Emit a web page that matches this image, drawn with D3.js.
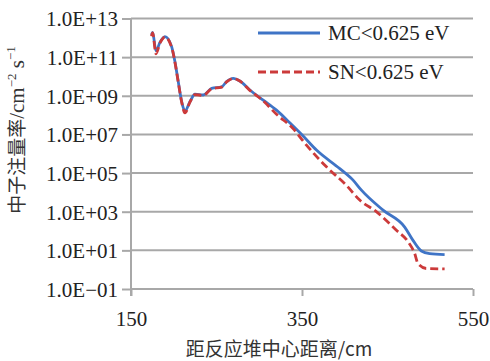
<!DOCTYPE html>
<html><head><meta charset="utf-8">
<script src="https://cdn.jsdelivr.net/npm/d3@7"></script>
<style>
html,body{margin:0;padding:0;background:#fff;}
svg{display:block;}
</style></head>
<body>
<svg id="chart" width="490" height="361"></svg>
<script>
const mcDistance = [174, 175.3, 179.2, 184, 189.7, 197.5, 201.4, 205.3, 209.3, 213.1, 218.9, 224.8, 234.5, 244.3, 256, 261.8, 269.5, 277.3, 289, 304.6, 320.2, 335.7, 351.3, 366.9, 394.2, 409.7, 419.5, 444.8, 470.1, 479.8, 489.6, 499.3, 516.8];
const mcFlux = [1.4e12, 1.9e12, 2.1e11, 6e11, 1.15e12, 3.5e11, 5.8e10, 5.3e9, 4.9e8, 1.6e8, 4.9e8, 1.2e9, 1.1e9, 2.4e9, 2.9e9, 5.4e9, 8e9, 5.8e9, 2e9, 6e8, 1.8e8, 4e7, 8.3e6, 1.55e6, 1.7e5, 4.3e4, 1.3e4, 1.2e3, 160, 33, 9.3, 6.8, 6];
const snDistance = [174, 175.3, 179.2, 184, 189.7, 197.5, 201.4, 205.3, 209.3, 213.1, 218.9, 224.8, 234.5, 244.3, 256, 261.8, 269.5, 277.3, 289, 304.6, 320.2, 339.6, 355.2, 378.6, 402, 417.5, 437, 460.4, 474, 481.8, 485.6, 495.4, 516.8];
const snFlux = [1.2e12, 1.8e12, 1.5e11, 5.5e11, 1.1e12, 3.3e11, 5.5e10, 5e9, 4.6e8, 1.3e8, 4.7e8, 1.15e9, 1.05e9, 2.3e9, 2.8e9, 5.2e9, 7.8e9, 5.8e9, 1.9e9, 5.5e8, 1.1e8, 2e7, 2.8e6, 2.1e5, 2.3e4, 4e3, 1e3, 110, 28, 6.8, 2.1, 1.15, 1.1];
const xTicks = [150, 350, 550];
const yTicks = [1e-1, 1e1, 1e3, 1e5, 1e7, 1e9, 1e11, 1e13];
const yTickLabels = ["1.0E\u221201", "1.0E+01", "1.0E+03", "1.0E+05", "1.0E+07", "1.0E+09", "1.0E+11", "1.0E+13"];
const seriesNames = ["MC<0.625 eV", "SN<0.625 eV"];
const xTitle = "距反应堆中心距离/cm";

const SERIF = '"Liberation Serif", "Times New Roman", "DejaVu Serif", serif';
const CJK = '"Noto Sans CJK SC", sans-serif';
const svg = d3.select("#chart");
const L = 131, R = 473, T = 18.5, B = 289;
const x = d3.scaleLinear().domain([150, 550]).range([L, R]);
const y = d3.scaleLog().domain([1e-1, 1e13]).range([B, T]);
const grid = "#a8a8a8";

// gridlines
svg.append("g").selectAll("line").data(yTicks.slice(1)).join("line")
  .attr("x1", L).attr("x2", R).attr("y1", d => y(d)).attr("y2", d => y(d))
  .attr("stroke", grid).attr("stroke-width", 2);

// y axis
const yAxis = svg.append("g").attr("transform", `translate(${L},0)`)
  .call(d3.axisLeft(y).tickValues(yTicks).tickSize(9).tickPadding(4)
    .tickFormat((d, i) => yTickLabels[i]));
yAxis.select(".domain").attr("stroke", grid).attr("stroke-width", 2)
  .attr("d", `M0,${T}V${B + 7}`);
yAxis.selectAll(".tick line").attr("stroke", grid).attr("stroke-width", 2);
yAxis.selectAll(".tick text").style("font-family", SERIF).style("font-size", "21px")
  .attr("fill", "#222").attr("dy", "0.35em");

// x axis
const xAxis = svg.append("g").attr("transform", `translate(0,${B})`)
  .call(d3.axisBottom(x).tickValues(xTicks).tickSize(7).tickPadding(15).tickFormat(d3.format("d")));
xAxis.select(".domain").attr("stroke", grid).attr("stroke-width", 2).attr("d", `M${L},0H${R}`);
xAxis.selectAll(".tick line").attr("stroke", grid).attr("stroke-width", 2);
xAxis.selectAll(".tick text").style("font-family", SERIF).style("font-size", "21px").attr("fill", "#222");

// lines
const line = d3.line().x(d => x(d[0])).y(d => y(d[1])).curve(d3.curveMonotoneX);
const mc = mcDistance.map((d, i) => [d, mcFlux[i]]);
const sn = snDistance.map((d, i) => [d, snFlux[i]]);
svg.append("path").datum(mc).attr("d", line).attr("fill", "none")
  .attr("stroke", "#3f74c6").attr("stroke-width", 2.8).attr("stroke-linejoin", "round");
svg.append("path").datum(sn).attr("d", line).attr("fill", "none")
  .attr("stroke", "#cc3a3a").attr("stroke-width", 2.8).attr("stroke-dasharray", "8,4");

// legend
const leg = [{n: seriesNames[0], c: "#3f74c6", dash: null, yy: 33},
             {n: seriesNames[1], c: "#cc3a3a", dash: "8,4", yy: 72}];
leg.forEach(l => {
  svg.append("line").attr("x1", 258).attr("x2", 320).attr("y1", l.yy).attr("y2", l.yy)
    .attr("stroke", l.c).attr("stroke-width", 2.8).attr("stroke-dasharray", l.dash);
  svg.append("text").attr("x", 328).attr("y", l.yy).attr("dy", "0.34em")
    .style("font-family", SERIF).style("font-size", "21px").attr("fill", "#222").text(l.n);
});

// titles
svg.append("text").attr("x", 279).attr("y", 350).attr("dy", "0.3em")
  .attr("text-anchor", "middle").style("font-family", CJK).style("font-size", "19px")
  .attr("fill", "#333").text(xTitle);

const yt = svg.append("text").attr("transform", "translate(17,130) rotate(-90)")
  .attr("text-anchor", "middle").attr("dy", "0.35em")
  .style("font-family", CJK).style("font-size", "19px").attr("fill", "#333");
yt.append("tspan").text("中子注量率");
yt.append("tspan").style("font-family", SERIF).style("font-size", "21px").text("/cm");
yt.append("tspan").style("font-family", SERIF).style("font-size", "13px").attr("dy", "-0.6em").text("\u22122");
yt.append("tspan").style("font-family", SERIF).style("font-size", "21px").attr("dy", "0.4em").text(" s");
yt.append("tspan").style("font-family", SERIF).style("font-size", "13px").attr("dy", "-0.7em").text("\u22121");
</script>
</body></html>
